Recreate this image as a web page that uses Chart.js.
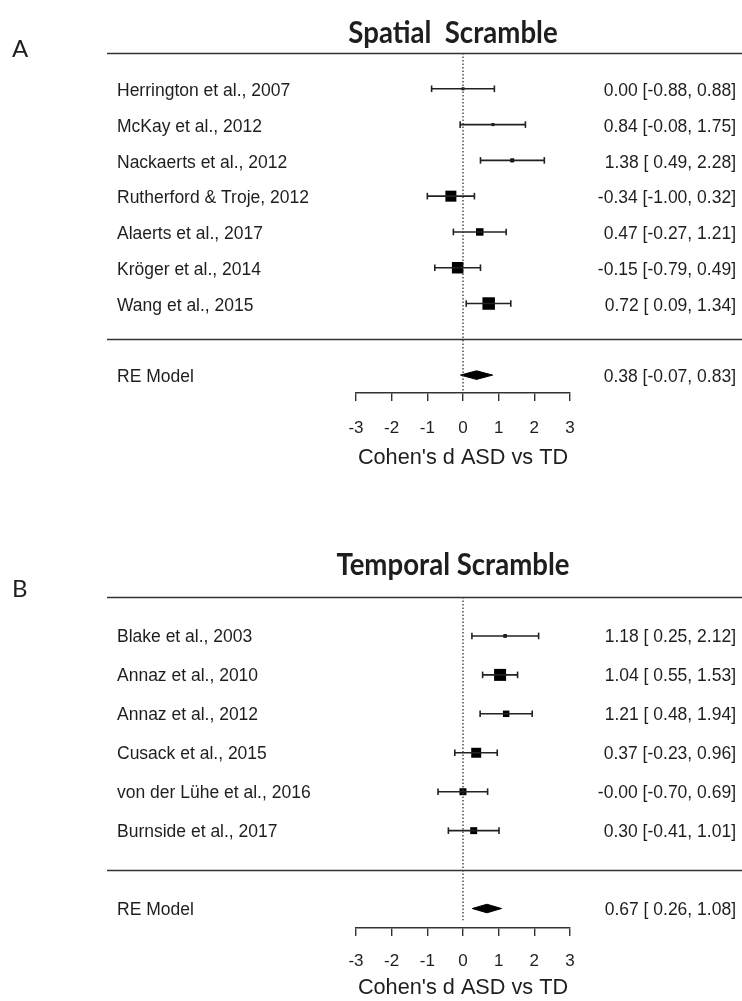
<!doctype html>
<html lang="en">
<head>
	<title>Forest plots - Spatial / Temporal Scramble</title>
	<meta charset="UTF-8">
	<script src="https://cdn.jsdelivr.net/npm/chart.js@4.4.1/dist/chart.umd.min.js"></script>
	<style>
		html, body { margin: 0; padding: 0; background: #fff; }
		.panel { width: 742px; }
		canvas { display: block; }
	</style>
</head>
<body>
	<div class="panel" style="height:500px"><canvas id="chartA" width="742" height="500"></canvas></div>
	<div class="panel" style="height:501px"><canvas id="chartB" width="742" height="501"></canvas></div>
	<script>
		// A: spatial scramble
		const studiesA = ['Herrington et al., 2007', 'McKay et al., 2012', 'Nackaerts et al., 2012', 'Rutherford & Troje, 2012', 'Alaerts et al., 2017', 'Kröger et al., 2014', 'Wang et al., 2015'];
		const estA = [0.00, 0.84, 1.38, -0.34, 0.47, -0.15, 0.72];
		const lowA = [-0.88, -0.08, 0.49, -1.00, -0.27, -0.79, 0.09];
		const highA = [0.88, 1.75, 2.28, 0.32, 1.21, 0.49, 1.34];
		const weightA = [0.24, 0.24, 0.32, 0.88, 0.6, 0.92, 1.0]; // relative to biggest study
		const modelA = [0.38, -0.07, 0.83];

		// B: temporal scramble
		const studiesB = ['Blake et al., 2003', 'Annaz et al., 2010', 'Annaz et al., 2012', 'Cusack et al., 2015', 'von der Lühe et al., 2016', 'Burnside et al., 2017'];
		const estB = [1.18, 1.04, 1.21, 0.37, -0.001, 0.30];
		const lowB = [0.25, 0.55, 0.48, -0.23, -0.70, -0.41];
		const highB = [2.12, 1.53, 1.94, 0.96, 0.69, 1.01];
		const weightB = [0.3, 1.0, 0.54, 0.83, 0.58, 0.58];
		const modelB = [0.67, 0.26, 1.08];

		const xTicks = [-3, -2, -1, 0, 1, 2, 3];
		const xLabel = "Cohen's d ASD vs TD";

		const INK = '#1e1e1e';
		const TEXT_FONT = '"Liberation Sans", Arial, sans-serif';

		function ciText(e, l, h) {
			const f = v => v.toFixed(2);
			return f(e) + ' [' + (l >= 0 ? ' ' : '') + f(l) + ', ' + f(h) + ']';
		}

		function forest(id, o) {
			const k = o.names.length;
			const rows = o.names.map((_, i) => k - i);
			const datasets = [];

			// dotted line at zero
			datasets.push({
				type: 'line', data: [{ x: 0, y: k + 1 }, { x: 0, y: o.refEnd }],
				borderColor: '#333', borderWidth: 1.3, borderDash: [1.5, 2], pointRadius: 0,
			});
			// confidence intervals with end caps
			o.names.forEach((n, i) => {
				datasets.push({
					type: 'line', data: [{ x: o.low[i], y: rows[i] }, { x: o.high[i], y: rows[i] }],
					borderColor: '#222', borderWidth: 1.6,
					pointStyle: 'line', pointRotation: 90, pointRadius: 3.3,
					pointBorderColor: '#222', pointBorderWidth: 1.6,
				});
			});
			// study estimates, square size by weight
			datasets.push({
				type: 'scatter', data: o.est.map((e, i) => ({ x: e, y: rows[i] })),
				pointStyle: 'rect', pointRadius: o.weight.map(w => w * o.maxSide / Math.SQRT2),
				pointBackgroundColor: '#000', pointBorderWidth: 0,
			});
			// RE model diamond
			const [m, ml, mh] = o.model;
			datasets.push({
				type: 'line',
				data: [{ x: ml, y: -1 }, { x: m, y: -1 + o.dh }, { x: mh, y: -1 }, { x: m, y: -1 - o.dh }, { x: ml, y: -1 }],
				fill: 'shape', backgroundColor: '#000', borderColor: '#000', borderWidth: 1, pointRadius: 0, tension: 0,
			});

			const labels = {
				id: 'forestText',
				afterDraw(chart) {
					const { ctx, scales: { y } } = chart;
					ctx.save();
					ctx.strokeStyle = '#333';
					ctx.lineWidth = 1.5;
					[k + 1, 0].forEach(r => {
						const py = Math.round(y.getPixelForValue(r)) + 0.5;
						ctx.beginPath();
						ctx.moveTo(107, py);
						ctx.lineTo(742, py);
						ctx.stroke();
					});

					ctx.fillStyle = INK;
					ctx.font = '17.5px ' + TEXT_FONT;
					ctx.textBaseline = 'middle';
					o.names.forEach((n, i) => {
						const py = y.getPixelForValue(rows[i]) + o.textShift;
						ctx.textAlign = 'left';
						ctx.fillText(n, 117, py);
						ctx.textAlign = 'right';
						ctx.fillText(ciText(o.est[i], o.low[i], o.high[i]), 736, py);
					});
					const pm = y.getPixelForValue(-1) + o.textShift;
					ctx.textAlign = 'left';
					ctx.fillText('RE Model', 117, pm);
					ctx.textAlign = 'right';
					ctx.fillText(ciText(m, ml, mh), 736, pm);

					// title, slightly condensed bold
					ctx.textBaseline = 'alphabetic';
					ctx.textAlign = 'center';
					ctx.font = 'bold 30px Lato, sans-serif';
					ctx.save();
					ctx.translate(453, o.titleY);
					ctx.scale(0.92, 1);
					ctx.fillText(o.title, 0, 0);
					ctx.restore();

					ctx.textAlign = 'left';
					ctx.font = '24px Lato, sans-serif';
					ctx.fillText(o.letter, 12, o.letterY);
					ctx.restore();
				}
			};

			return new Chart(document.getElementById(id), {
				type: 'scatter',
				data: { datasets },
				plugins: [labels],
				options: {
					responsive: false,
					animation: false,
					layout: { padding: { left: 356, right: 172, top: o.top, bottom: 0 } },
					plugins: { legend: { display: false }, tooltip: { enabled: false } },
					scales: {
						x: {
							type: 'linear', min: xTicks[0], max: xTicks[xTicks.length - 1],
							afterFit: s => { s.height = o.axisH; },
							afterBuildTicks: s => { s.ticks = xTicks.map(v => ({ value: v })); },
							border: { display: true, color: '#333', width: 1.4 },
							grid: { drawOnChartArea: false, drawTicks: true, tickLength: 8, color: '#333', lineWidth: 1.4 },
							ticks: { autoSkip: false, maxRotation: 0, padding: o.tickPad, color: INK, font: { family: TEXT_FONT, size: 17 } },
							title: { display: true, text: xLabel, color: INK, font: { family: TEXT_FONT, size: 21.7 }, padding: { top: 0, bottom: o.labelPad } },
						},
						y: { type: 'linear', display: false, min: -1.5, max: k + 1 },
					},
				},
			});
		}

		forest('chartA', {
			names: studiesA, est: estA, low: lowA, high: highA, weight: weightA, model: modelA,
			maxSide: 12.5, dh: 0.12, refEnd: -1.5, textShift: 2.5,
			top: 53, axisH: 107, labelPad: 29, tickPad: 17,
			title: 'Spatial  Scramble', titleY: 43, letter: 'A', letterY: 57,
		});
		forest('chartB', {
			names: studiesB, est: estB, low: lowB, high: highB, weight: weightB, model: modelB,
			maxSide: 12, dh: 0.11, refEnd: -1.3, textShift: 1.5,
			top: 97, axisH: 73, labelPad: 0, tickPad: 15,
			title: 'Temporal Scramble', titleY: 75, letter: 'B', letterY: 97,
		});
	</script>
</body>
</html>
